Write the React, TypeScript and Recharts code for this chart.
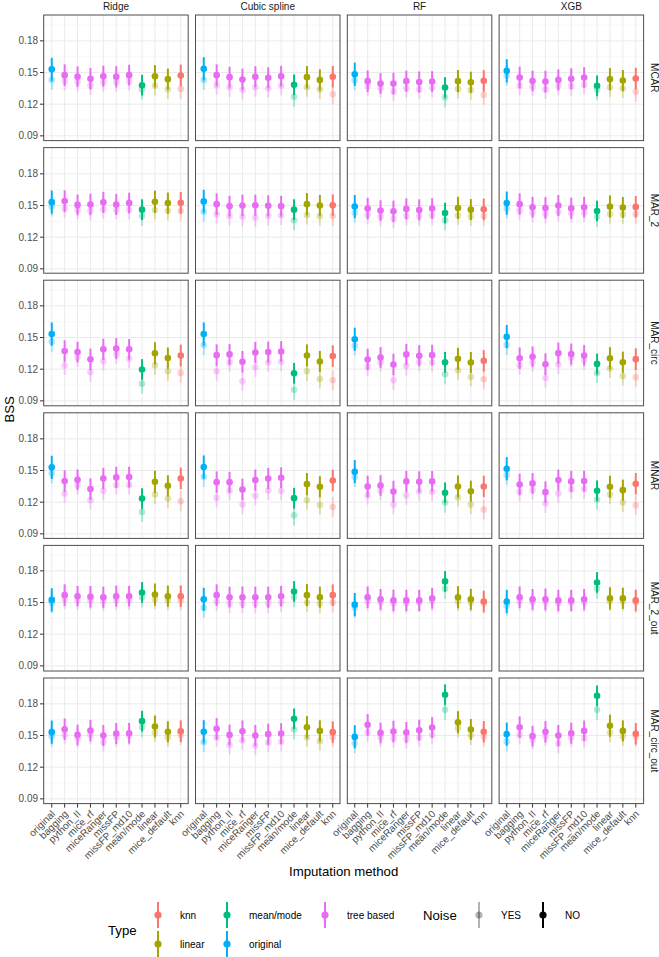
import React from "react";
import { ComposedChart, Scatter, ErrorBar, XAxis, YAxis, CartesianGrid } from "recharts";

const FONT = "Liberation Sans, Arial, Helvetica, sans-serif";

const methods = [
  "original",
  "bagging",
  "python_II",
  "mice_rf",
  "miceRanger",
  "missFP",
  "missFP_md10",
  "mean/mode",
  "linear",
  "mice_default",
  "knn",
];
const methodType = [
  "original",
  "tree based",
  "tree based",
  "tree based",
  "tree based",
  "tree based",
  "tree based",
  "mean/mode",
  "linear",
  "linear",
  "knn",
];
const models = ["Ridge", "Cubic spline", "RF", "XGB"];
const mechanisms = ["MCAR", "MAR_2", "MAR_circ", "MNAR", "MAR_2_out", "MAR_circ_out"];
const typeNames = ["knn", "linear", "mean/mode", "original", "tree based"];
const typeColors = ["#F8766D", "#A3A500", "#00BF7D", "#00B0F6", "#E76BF3"];
const noiseNames = ["YES", "NO"];

// half-width of the interval, per method
const errNo = [0.011, 0.0102, 0.0098, 0.0102, 0.01, 0.01, 0.0098, 0.0098, 0.0105, 0.01, 0.0102];
const errYes = [0.0095, 0.009, 0.009, 0.009, 0.009, 0.009, 0.009, 0.0095, 0.009, 0.009, 0.0095];

// mean BSS, one inner list per model (Ridge, Cubic spline, RF, XGB)
const mcarNo = [
  [0.153, 0.1475, 0.146, 0.144, 0.1465, 0.146, 0.1475, 0.138, 0.1465, 0.1437, 0.1472],
  [0.1535, 0.1475, 0.1456, 0.1434, 0.146, 0.145, 0.1465, 0.1383, 0.1456, 0.143, 0.146],
  [0.1484, 0.1418, 0.1396, 0.1396, 0.1418, 0.141, 0.1415, 0.1358, 0.1418, 0.1408, 0.1421],
  [0.1516, 0.1453, 0.142, 0.1415, 0.143, 0.144, 0.1453, 0.1374, 0.1437, 0.1424, 0.1443],
];
const mcarYes = [
  [0.143, 0.142, 0.141, 0.1377, 0.141, 0.141, 0.1418, 0.134, 0.1374, 0.134, 0.1345],
  [0.143, 0.138, 0.136, 0.1336, 0.136, 0.135, 0.1374, 0.127, 0.136, 0.134, 0.1295],
  [0.1427, 0.137, 0.135, 0.132, 0.135, 0.134, 0.1355, 0.1266, 0.1345, 0.1333, 0.1288],
  [0.147, 0.1374, 0.1367, 0.134, 0.1374, 0.137, 0.1383, 0.1336, 0.136, 0.1348, 0.1317],
];
const mar2No = [
  [0.1532, 0.1542, 0.1506, 0.151, 0.153, 0.151, 0.1523, 0.1461, 0.1536, 0.1523, 0.1526],
  [0.1539, 0.1513, 0.1494, 0.15, 0.1503, 0.1497, 0.1494, 0.1461, 0.1513, 0.15, 0.1503],
  [0.149, 0.1471, 0.1452, 0.1445, 0.1468, 0.1458, 0.1471, 0.1429, 0.1477, 0.1461, 0.1464],
  [0.1523, 0.1513, 0.1484, 0.1477, 0.15, 0.1474, 0.1484, 0.1448, 0.149, 0.1481, 0.1487],
];
const mar2Yes = [
  [0.149, 0.1474, 0.1458, 0.145, 0.1465, 0.1458, 0.146, 0.14, 0.1458, 0.145, 0.1448],
  [0.1442, 0.1416, 0.14, 0.1393, 0.1387, 0.14, 0.1406, 0.1361, 0.141, 0.14, 0.14],
  [0.1432, 0.141, 0.1393, 0.1377, 0.14, 0.14, 0.1406, 0.1361, 0.1406, 0.1397, 0.14],
  [0.1471, 0.1452, 0.1432, 0.1419, 0.1439, 0.1429, 0.1432, 0.1393, 0.1419, 0.1416, 0.1419],
];
const marCircNo = [
  [0.1533, 0.1372, 0.1362, 0.1293, 0.1388, 0.1395, 0.1388, 0.1197, 0.135, 0.1305, 0.133],
  [0.1533, 0.1333, 0.134, 0.127, 0.1358, 0.1362, 0.1368, 0.1161, 0.133, 0.1273, 0.1324],
  [0.1483, 0.1292, 0.1311, 0.1244, 0.134, 0.1327, 0.1333, 0.1266, 0.1298, 0.1263, 0.1279],
  [0.1508, 0.1304, 0.1317, 0.1247, 0.1352, 0.1343, 0.133, 0.125, 0.1304, 0.1266, 0.1295],
];
const marCircYes = [
  [0.146, 0.1235, 0.131, 0.117, 0.1277, 0.134, 0.13, 0.1063, 0.1238, 0.118, 0.1165],
  [0.1428, 0.118, 0.1263, 0.1085, 0.1219, 0.1263, 0.127, 0.1005, 0.118, 0.1107, 0.1095],
  [0.1422, 0.1222, 0.1263, 0.1095, 0.1231, 0.127, 0.1263, 0.1152, 0.119, 0.1126, 0.1104],
  [0.1428, 0.1238, 0.1263, 0.1117, 0.1244, 0.131, 0.1285, 0.1164, 0.1206, 0.1136, 0.1123],
];
const mnarNo = [
  [0.153, 0.14, 0.1413, 0.1324, 0.1425, 0.1435, 0.1438, 0.1234, 0.1393, 0.1355, 0.1425],
  [0.1533, 0.139, 0.139, 0.132, 0.1409, 0.1425, 0.1432, 0.1238, 0.1371, 0.1346, 0.1406],
  [0.1489, 0.1349, 0.1358, 0.1301, 0.1397, 0.1393, 0.1397, 0.1289, 0.1349, 0.1304, 0.1349],
  [0.1517, 0.1368, 0.1378, 0.1295, 0.1409, 0.1397, 0.14, 0.1308, 0.1346, 0.1314, 0.1374],
];
const mnarYes = [
  [0.1473, 0.1282, 0.1362, 0.1219, 0.1308, 0.1362, 0.1362, 0.1107, 0.1273, 0.1234, 0.1209],
  [0.1441, 0.1241, 0.1308, 0.1177, 0.126, 0.1311, 0.1308, 0.1075, 0.1219, 0.1174, 0.1155],
  [0.1438, 0.1266, 0.1308, 0.1177, 0.1266, 0.1304, 0.1298, 0.1196, 0.1247, 0.1177, 0.113],
  [0.1457, 0.1298, 0.1314, 0.1187, 0.1282, 0.132, 0.1323, 0.1225, 0.1273, 0.1196, 0.1171],
];
const mar2OutNo = [
  [0.1525, 0.157, 0.156, 0.1555, 0.155, 0.156, 0.156, 0.1595, 0.1575, 0.156, 0.156],
  [0.153, 0.157, 0.155, 0.155, 0.155, 0.155, 0.156, 0.1605, 0.157, 0.155, 0.157],
  [0.148, 0.155, 0.153, 0.152, 0.152, 0.152, 0.154, 0.17, 0.155, 0.153, 0.151],
  [0.151, 0.155, 0.153, 0.153, 0.152, 0.152, 0.153, 0.169, 0.154, 0.154, 0.152],
];
const mar2OutYes = [
  [0.1495, 0.153, 0.152, 0.152, 0.151, 0.152, 0.152, 0.155, 0.153, 0.152, 0.152],
  [0.145, 0.151, 0.149, 0.149, 0.149, 0.149, 0.15, 0.155, 0.15, 0.149, 0.15],
  [0.145, 0.151, 0.15, 0.149, 0.149, 0.15, 0.151, 0.163, 0.151, 0.15, 0.149],
  [0.147, 0.151, 0.15, 0.15, 0.149, 0.15, 0.15, 0.163, 0.151, 0.151, 0.15],
];
const marCircOutNo = [
  [0.1532, 0.156, 0.1506, 0.1547, 0.15, 0.1519, 0.1522, 0.1636, 0.1585, 0.1535, 0.1541],
  [0.1535, 0.1563, 0.1506, 0.1541, 0.15, 0.1513, 0.1519, 0.1658, 0.1579, 0.1544, 0.1532],
  [0.1487, 0.1601, 0.1525, 0.1538, 0.1528, 0.155, 0.1576, 0.1886, 0.1626, 0.1557, 0.1535],
  [0.1513, 0.1579, 0.1494, 0.1535, 0.15, 0.1522, 0.1544, 0.1876, 0.1592, 0.1544, 0.1516],
];
const marCircOutYes = [
  [0.149, 0.1506, 0.1475, 0.1506, 0.1437, 0.1484, 0.1497, 0.1579, 0.1528, 0.1484, 0.1506],
  [0.1437, 0.1484, 0.1412, 0.1453, 0.1402, 0.1434, 0.144, 0.156, 0.1484, 0.1449, 0.1484],
  [0.1427, 0.1528, 0.1484, 0.1475, 0.1468, 0.1484, 0.1506, 0.1743, 0.157, 0.15, 0.149],
  [0.1443, 0.1506, 0.1459, 0.149, 0.1421, 0.1484, 0.1475, 0.1743, 0.1528, 0.149, 0.149],
];

const noRows = [mcarNo, mar2No, marCircNo, mnarNo, mar2OutNo, marCircOutNo];
const yesRows = [mcarYes, mar2Yes, marCircYes, mnarYes, mar2OutYes, marCircOutYes];

const majorY = [0.09, 0.12, 0.15, 0.18];
const minorY = [0.105, 0.135, 0.165, 0.195];
const xTicks = methods.map((_, i) => i + 1);

// facet layout
const panelLefts = [43.7, 195.5, 347.3, 499.1];
const panelTops = [15, 147.6, 280.2, 412.8, 545.4, 678];
const PANEL_W = 144.5;
const PANEL_H = 125.6;
const Y_AXIS_W = 36;
const X_AXIS_H = 70;

const MethodTick = (props: any) => {
  const { x, y, payload } = props;
  const ax = x + 4;
  const ay = y + 5;
  return (
    <text
      x={ax}
      y={ay}
      transform={`rotate(-45 ${ax} ${ay})`}
      textAnchor="end"
      fontSize={10}
      fontFamily={FONT}
      fill="#4D4D4D"
    >
      {methods[payload.value - 1]}
    </text>
  );
};

const dot = (fill: string) => (p: any) =>
  p.cx == null ? <g /> : <circle cx={p.cx} cy={p.cy} r={3.3} fill={fill} />;

function Panel({ row, col }: { row: number; col: number }) {
  const first = col === 0;
  const last = row === mechanisms.length - 1;
  const yw = first ? Y_AXIS_W : 0;
  const xh = last ? X_AXIS_H : 0;
  const toPts = (vals: number[], err: number[]) =>
    vals.map((v, i) => ({ x: i + 1, y: v, err: err[i], type: methodType[i] }));
  const yes = toPts(yesRows[row][col], errYes);
  const no = toPts(noRows[row][col], errNo);

  return (
    <div style={{ position: "absolute", left: panelLefts[col] - yw, top: panelTops[row] }}>
      <ComposedChart
        width={PANEL_W + yw}
        height={PANEL_H + xh}
        margin={{ top: 0, right: 0, bottom: 0, left: 0 }}
      >
        <CartesianGrid horizontalValues={minorY} vertical={false} stroke="#F2F2F2" strokeWidth={0.6} />
        <CartesianGrid horizontalValues={majorY} verticalValues={xTicks} stroke="#EBEBEB" strokeWidth={1} />
        <XAxis
          type="number"
          dataKey="x"
          domain={[0.4, 11.6]}
          ticks={xTicks}
          interval={0}
          allowDataOverflow
          hide={!last}
          height={X_AXIS_H}
          axisLine={false}
          tickSize={4}
          tickMargin={2}
          tickLine={{ stroke: "#333333" }}
          tick={<MethodTick />}
        />
        <YAxis
          type="number"
          dataKey="y"
          domain={[0.0855, 0.2045]}
          ticks={majorY}
          interval={0}
          allowDataOverflow
          hide={!first}
          width={Y_AXIS_W}
          axisLine={false}
          tickSize={4}
          tickMargin={2}
          tickLine={{ stroke: "#333333" }}
          tick={{ fontSize: 10, fill: "#4D4D4D", fontFamily: FONT }}
          tickFormatter={(v: number) => v.toFixed(2)}
        />
        {typeNames.map((t, k) => (
          <Scatter
            key={"yes-" + t}
            data={yes.filter((p) => p.type === t)}
            dataKey="y"
            isAnimationActive={false}
            shape={dot(typeColors[k] + "4D")}
          >
            <ErrorBar dataKey="err" direction="y" width={0} stroke={typeColors[k] + "4D"} strokeWidth={2} />
          </Scatter>
        ))}
        {typeNames.map((t, k) => (
          <Scatter
            key={"no-" + t}
            data={no.filter((p) => p.type === t)}
            dataKey="y"
            isAnimationActive={false}
            shape={dot(typeColors[k])}
          >
            <ErrorBar dataKey="err" direction="y" width={0} stroke={typeColors[k]} strokeWidth={2} />
          </Scatter>
        ))}
      </ComposedChart>
    </div>
  );
}

const legendSlots = [
  [158, 915],
  [158, 944],
  [227, 915],
  [227, 944],
  [325, 915],
];
const noiseSlots = [479, 543];

function Glyph({ x, y, color }: { x: number; y: number; color: string }) {
  return (
    <g>
      <line x1={x} x2={x} y1={y - 13} y2={y + 13} stroke={color} strokeWidth={2} />
      <circle cx={x} cy={y} r={3.6} fill={color} />
    </g>
  );
}

function Overlay() {
  const gridRight = panelLefts[3] + PANEL_W;
  const gridMid = (panelLefts[0] + gridRight) / 2;
  const gridVMid = (panelTops[0] + panelTops[5] + PANEL_H) / 2;
  // baseline of the rotated row labels; glyphs sit to its right
  const stripX = 650.5;
  return (
    <svg
      width={659}
      height={957}
      style={{ position: "absolute", left: 0, top: 0, pointerEvents: "none" }}
      fontFamily={FONT}
    >
      {panelTops.map((top, r) =>
        panelLefts.map((left, c) => (
          <rect
            key={r + "-" + c}
            x={left}
            y={top}
            width={PANEL_W}
            height={PANEL_H}
            fill="none"
            stroke="#4D4D4D"
            strokeWidth={1}
          />
        ))
      )}
      {models.map((m, c) => (
        <text key={m} x={panelLefts[c] + PANEL_W / 2} y={9.5} textAnchor="middle" fontSize={10} fill="#1A1A1A">
          {m}
        </text>
      ))}
      {mechanisms.map((m, r) => {
        const cy = panelTops[r] + PANEL_H / 2;
        return (
          <text
            key={m}
            x={stripX}
            y={cy}
            transform={`rotate(90 ${stripX} ${cy})`}
            textAnchor="middle"
            fontSize={10}
            fill="#1A1A1A"
          >
            {m}
          </text>
        );
      })}
      <text
        x={14}
        y={gridVMid}
        transform={`rotate(-90 14 ${gridVMid})`}
        textAnchor="middle"
        fontSize={13.2}
        fill="#000"
      >
        BSS
      </text>
      <text x={gridMid} y={876} textAnchor="middle" fontSize={13.2} fill="#000">
        Imputation method
      </text>

      <text x={108} y={934.5} fontSize={13.2} fill="#000">
        Type
      </text>
      {typeNames.map((t, k) => (
        <g key={t}>
          <Glyph x={legendSlots[k][0]} y={legendSlots[k][1]} color={typeColors[k]} />
          <text x={legendSlots[k][0] + 22} y={legendSlots[k][1] + 3.5} fontSize={10} fill="#000">
            {t}
          </text>
        </g>
      ))}
      <text x={423} y={919.5} fontSize={13.2} fill="#000">
        Noise
      </text>
      {noiseNames.map((n, k) => (
        <g key={n}>
          <Glyph x={noiseSlots[k]} y={915} color={n === "YES" ? "#0000004D" : "#000000"} />
          <text x={noiseSlots[k] + 22} y={918.5} fontSize={10} fill="#000">
            {n}
          </text>
        </g>
      ))}
    </svg>
  );
}

export default function App() {
  return (
    <div style={{ position: "absolute", left: 0, top: 0, width: 659, height: 957, background: "#fff" }}>
      <style>{".recharts-surface { overflow: visible; }"}</style>
      {mechanisms.map((_, r) => models.map((_m, c) => <Panel key={r + "-" + c} row={r} col={c} />))}
      <Overlay />
    </div>
  );
}
